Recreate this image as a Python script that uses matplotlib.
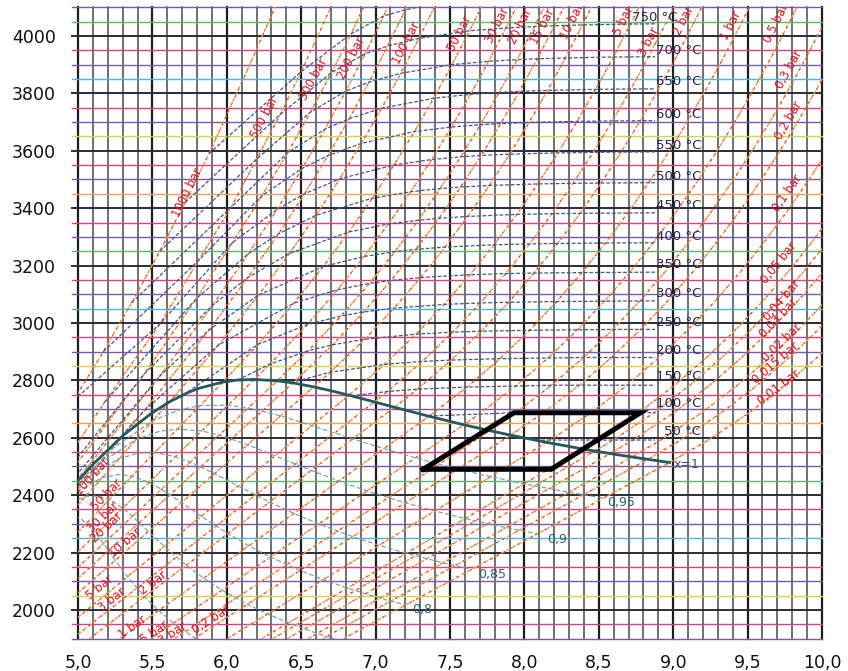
import numpy as np
import matplotlib.pyplot as plt
from matplotlib.patches import Rectangle

nan = np.nan

# --- data: h-s (Mollier) chart of steam, s in kJ/(kg K), h in kJ/kg ---

# temperatures of the superheated points (deg C)
T_GRID = [50, 100, 150, 200, 250, 300, 350, 400, 450, 500, 550, 600, 650, 700, 750, 800, 850, 900]

# enthalpy at low pressure (same for all isobars <= 0.3 bar)
H_LOW = [2592.0, 2687.4, 2783.0, 2879.6, 2977.4, 3076.7, 3177.2, 3280.0, 3384.3, 3489.7,
         3597.0, 3706.3, 3817.3, 3929.9, 4044.0, 4160.2, nan, nan]

S_1000 = [nan] * 10 + [4.97, 5.17, 5.36, 5.55, 5.72, 5.88, 6.15, 6.40]
H_1000 = [nan] * 10 + [2730, 2900, 3070, 3250, 3420, 3590, 3895, 4190]
S_500 = [nan] * 8 + [4.62, 5.176, 5.55, 5.81, 6.03, 6.20, 6.36, 6.50, 6.63, 6.76]
H_500 = [nan] * 8 + [2285, 2722, 2996, 3218, 3404, 3571, 3727, 3876, 4022, 4170]
S_300 = [nan] * 7 + [4.475, 5.4435, 5.7956, 6.0373, 6.2374, 6.4092, 6.5630, 6.7044, 6.8354, 6.94, nan]
H_300 = [nan] * 7 + [2152.8, 2821.0, 3084.8, 3279.8, 3444.2, 3593.2, 3735.2, 3872.9, 4007.5, 4125, nan]
S_200 = [nan] * 7 + [5.5525, 5.9043, 6.1446, 6.3390, 6.5075, 6.6593, 6.7993, 6.9298, 7.0544, 7.16, nan]
H_200 = [nan] * 7 + [2816.9, 3061.7, 3241.2, 3396.2, 3539.0, 3675.3, 3807.8, 3938.1, 4069.8, 4190, nan]
S_150 = [nan] * 6 + [5.4420, 5.8810, 6.1403, 6.3480, 6.5230, 6.6796, 6.8233, 6.9556, 7.0808, 7.2000, 7.31, nan]
H_150 = [nan] * 6 + [2693.1, 2975.7, 3157.9, 3310.8, 3450.4, 3583.1, 3712.0, 3839.1, 3965.0, 4091.1, 4215, nan]
S_100 = [nan] * 6 + [5.9460, 6.2141, 6.4219, 6.5995, 6.7585, 6.9045, 7.0408, 7.1693, 7.2916, 7.4085, nan, nan]
H_100 = [nan] * 6 + [2924.0, 3097.5, 3242.4, 3375.1, 3502.0, 3625.8, 3748.1, 3870.0, 3992.0, 4114.5, nan, nan]
S_50 = [nan] * 5 + [6.2110, 6.4516, 6.6483, 6.8210, 6.9781, 7.1237, 7.2605, 7.3903, 7.5136, 7.6317, 7.7458, nan, nan]
H_50 = [nan] * 5 + [2925.7, 3069.3, 3196.7, 3317.2, 3434.7, 3550.5, 3666.9, 3783.0, 3900.3, 4018.2, 4137.7, nan, nan]
S_30 = [nan] * 4 + [6.2893, 6.5412, 6.7449, 6.9234, 7.0856, 7.2359, 7.3768, 7.5103, 7.6373, 7.7590, 7.8755, 7.9885, nan, nan]
H_30 = [nan] * 4 + [2856.5, 2994.3, 3116.1, 3231.7, 3344.9, 3457.2, 3569.5, 3682.8, 3796.8, 3911.7, 4027.5, 4145.0, nan, nan]
S_20 = [nan] * 4 + [6.5475, 6.7684, 6.9583, 7.1292, 7.2866, 7.4337, 7.5725, 7.7043, 7.8302, 7.9509, 8.0666, 8.1791, nan, nan]
H_20 = [nan] * 4 + [2903.2, 3024.2, 3137.7, 3248.4, 3357.8, 3468.3, 3579.1, 3690.7, 3803.6, 3917.5, 4033.0, 4149.2, nan, nan]
S_15 = [nan] * 4 + [6.7111, 6.9198, 7.1036, 7.2709, 7.4262, 7.5718, 7.7099, 7.8410, 7.9665, 8.0867, 8.2021, 8.3143, nan, nan]
H_15 = [nan] * 4 + [2923.9, 3038.2, 3148.0, 3256.5, 3364.6, 3473.7, 3583.6, 3694.6, 3807.0, 3920.5, 4035.8, 4151.7, nan, nan]
S_10 = [nan] * 3 + [6.6955, 6.9265, 7.1246, 7.3029, 7.4670, 7.6200, 7.7642, 7.9010, 8.0311, 8.1560, 8.2755, 8.3906, 8.5024, nan, nan]
H_10 = [nan] * 3 + [2828.3, 2943.1, 3051.6, 3158.2, 3264.5, 3371.3, 3479.1, 3588.1, 3698.6, 3810.5, 3923.5, 4038.5, 4154.1, nan, nan]
S_5 = [nan] * 3 + [7.0610, 7.2725, 7.4614, 7.6346, 7.7956, 7.9479, 8.0893, 8.2249, 8.3544, 8.4786, 8.5978, 8.7125, 8.8240, nan, nan]
H_5 = [nan] * 3 + [2855.8, 2961.0, 3064.6, 3168.1, 3272.4, 3378.2, 3484.5, 3592.7, 3702.5, 3814.0, 3926.7, 4041.7, 4156.9, nan, nan]
S_3 = [nan] * 2 + [7.0791, 7.3132, 7.5180, 7.7037, 7.8744, 8.0347, 8.1857, 8.3271, 8.4619, 8.5915, 8.7153, 8.8345, 8.9490, 9.0605, nan, nan]
H_3 = [nan] * 2 + [2761.2, 2865.9, 2967.9, 3069.6, 3172.0, 3275.5, 3380.8, 3486.6, 3594.5, 3704.0, 3815.3, 3927.7, 4042.6, 4157.6, nan, nan]
S_2 = [nan] * 2 + [7.2810, 7.5081, 7.7100, 7.8941, 8.0637, 8.2236, 8.3740, 8.5153, 8.6498, 8.7793, 8.9031, 9.0221, 9.1365, 9.2479, nan, nan]
H_2 = [nan] * 2 + [2769.1, 2870.7, 2971.2, 3072.1, 3173.8, 3277.0, 3382.0, 3487.7, 3595.4, 3704.8, 3816.0, 3928.4, 4043.2, 4158.0, nan, nan]
S_1 = [nan] + [7.3610, 7.6148, 7.8356, 8.0346, 8.2172, 8.3858, 8.5452, 8.6951, 8.8362, 8.9705, 9.0999, 9.2236, 9.3424, 9.4568, 9.5682, nan, nan]
H_1 = [nan] + [2675.8, 2776.6, 2875.5, 2974.5, 3074.5, 3175.6, 3278.6, 3383.2, 3488.7, 3596.3, 3705.6, 3816.7, 3928.9, 4043.6, 4158.4, nan, nan]
S_0_5 = [nan] + [7.6953, 7.9413, 8.1592, 8.3568, 8.5386, 8.7071, 8.8659, 9.0157, 9.1566, 9.2909, 9.4201, 9.5438, 9.6625, 9.7768, 9.8882, nan, nan]
H_0_5 = [nan] + [2682.4, 2780.2, 2877.8, 2976.1, 3075.8, 3176.4, 3279.3, 3383.8, 3489.2, 3596.6, 3706.0, 3817.0, 3929.7, 4043.9, 4160.0, nan, nan]
S_0_3 = [nan, 7.9419, 8.1822, 8.3979, 8.5945, 8.7757, 8.9437, 9.1024, 9.2518, 9.3928, 9.5270, 9.6561, 9.7797, 9.8986, 10.0129, nan, nan, nan]
S_0_2 = [nan, 8.1290, 8.3693, 8.5850, 8.7816, 8.9628, 9.1308, 9.2895, 9.4389, 9.5799, 9.7141, 9.8432, 9.9668, 10.0857, nan, nan, nan, nan]
S_0_1 = [8.1741, 8.4489, 8.6892, 8.9049, 9.1015, 9.2827, 9.4507, 9.6094, 9.7588, 9.8998, 10.0340, 10.1631] + [nan] * 6
S_0_05 = [8.4940, 8.7688, 9.0091, 9.2248, 9.4214, 9.6026, 9.7706, 9.9293, 10.0787, 10.2197] + [nan] * 8
S_0_04 = [8.5970, 8.8718, 9.1121, 9.3278, 9.5244, 9.7056, 9.8736, 10.0323] + [nan] * 10
S_0_03 = [8.7297, 9.0045, 9.2448, 9.4605, 9.6571, 9.8383, 10.0063] + [nan] * 11
S_0_02 = [8.9169, 9.1917, 9.4320, 9.6477, 9.8443, 10.0255] + [nan] * 12
S_0_015 = [9.0496, 9.3244, 9.5647, 9.7804, 9.9770, 10.1582] + [nan] * 12
S_0_01 = [9.2368, 9.5116, 9.7519, 9.9676, 10.1642] + [nan] * 13

P_TEXT = ["1000 bar", "500 bar", "300 bar", "200 bar", "150 bar", "100 bar", "50 bar", "30 bar",
          "20 bar", "15 bar", "10 bar", "5 bar", "3 bar", "2 bar", "1 bar", "0,5 bar", "0,3 bar",
          "0,2 bar", "0,1 bar", "0,05 bar", "0,04 bar", "0,03 bar", "0,02 bar", "0,015 bar", "0,01 bar"]
S_TABLE = [S_1000, S_500, S_300, S_200, S_150, S_100, S_50, S_30, S_20, S_15, S_10, S_5, S_3, S_2,
           S_1, S_0_5, S_0_3, S_0_2, S_0_1, S_0_05, S_0_04, S_0_03, S_0_02, S_0_015, S_0_01]
H_TABLE = [H_1000, H_500, H_300, H_200, H_150, H_100, H_50, H_30, H_20, H_15, H_10, H_5, H_3, H_2,
           H_1, H_0_5, H_LOW, H_LOW, H_LOW, H_LOW, H_LOW, H_LOW, H_LOW, H_LOW, H_LOW]

# saturated vapour point of each isobar
SAT_S = [nan, nan, nan, 4.9314, 5.3097, 5.6159, 5.9737, 6.1856, 6.3390, 6.4448, 6.5850, 6.8207, 6.9916,
         7.1269, 7.3588, 7.5931, 7.7675, 7.9073, 8.1488, 8.3939, 8.4735, 8.5766, 8.7227, 8.8279, 8.9749]
SAT_H = [nan, nan, nan, 2412.3, 2610.8, 2725.5, 2794.2, 2803.2, 2798.3, 2791.0, 2777.1, 2748.1, 2724.9,
         2706.2, 2674.9, 2645.2, 2624.6, 2608.9, 2583.9, 2560.7, 2553.7, 2544.8, 2532.9, 2524.7, 2513.7]
# lower end of each isobar in the wet region (chart border)
WET_S = [nan, nan, nan, nan, 5.0, 5.0, 5.0, 5.0, 5.0, 5.0, 5.0, 5.0, 5.0, 5.0774, 5.2800, 5.4908,
         5.6503, 5.7798, 6.0046, 6.2349, 6.3097, 6.4072, 6.5452, 6.6449, 6.7840]
WET_H = [nan, nan, nan, nan, 2420.2, 2365.7, 2271.2, 2202.1, 2148.2, 2109.9, 2059.1, 1974.3, 1915.0,
         1900, 1900, 1900, 1900, 1900, 1900, 1900, 1900, 1900, 1900, 1900, 1900]

# isobar labels (top / right side)
LAB_S = [5.738, 6.255, 6.584, 6.839, nan, 7.208, 7.564, 7.819, 7.975, 8.125, 8.322, 8.671, 8.839,
         9.074, 9.39, 9.691, 9.779, 9.779, 9.765, 9.711, 9.732, 9.711, 9.732, 9.691, 9.711]
LAB_H = [3456, 3718, 3850, 3923, nan, 3976, 4010, 4038, 4035, 4035, 4050, 4055, 3979,
         4055, 4035, 4045, 3882, 3707, 3453, 3209, 3080, 3018, 2930, 2861, 2774]
# isobar labels in the wet region (lower left)
WLAB_P = ["100 bar", "50 bar", "30 bar", "20 bar", "10 bar", "5 bar", "3 bar", "2 bar", "1 bar",
          "0,5 bar", "0,3 bar", "0,2 bar"]
WLAB_S = [5.101, 5.195, 5.168, 5.195, 5.315, 5.148, 5.228, 5.503, 5.369, 5.483, 5.604, 5.893]
WLAB_H = [2464, 2401, 2324, 2289, 2234, 2077, 2035, 2094, 1941, 1910, 1906, 1965]

# saturated vapour points where isotherms start (50 ... 350 deg C)
ISO_SAT_S = [8.0748, 7.3541, 6.8371, 6.4302, 6.0721, 5.7059, 5.2177]
ISO_SAT_H = [2591.3, 2675.6, 2745.9, 2792.0, 2801.0, 2749.0, 2563.9]
ISO_LAB_T = [750, 700, 650, 600, 550, 500, 450, 400, 350, 300, 250, 200, 150, 100, 50]
ISO_LAB_H = [4066, 3948, 3840, 3728, 3620, 3512, 3411, 3303, 3202, 3101, 3000, 2903, 2812, 2718, 2620]

# saturation line x = 1
XSAT_S = [4.9314, 5.1044, 5.3097, 5.4939, 5.6159, 5.7450, 5.8148, 5.9737, 6.0696, 6.1856, 6.3390,
          6.4448, 6.5850, 6.7071, 6.8207, 6.9916, 7.1269, 7.3588, 7.5931, 7.7675, 7.9073, 8.1488,
          8.3939, 8.5766, 8.7227, 8.9749]
XSAT_H = [2412.3, 2509.5, 2610.8, 2685.4, 2725.5, 2758.7, 2772.6, 2794.2, 2800.8, 2803.2, 2798.3,
          2791.0, 2777.1, 2763.0, 2748.1, 2724.9, 2706.2, 2674.9, 2645.2, 2624.6, 2608.9, 2583.9,
          2560.7, 2544.8, 2532.9, 2513.7]

# lines of constant dryness fraction
Q095_S = [4.8856, 5.2285, 5.5031, 5.6802, 5.8211, 6.0086, 6.1444, 6.3627, 6.5727, 6.8472, 7.0560,
          7.2680, 7.5534, 7.7738, 7.9979, 8.2996, 8.5310]
Q095_H = [2383.0, 2560.8, 2659.6, 2697.3, 2712.2, 2713.5, 2703.8, 2676.4, 2642.1, 2596.1, 2562.0,
          2530.0, 2491.0, 2464.3, 2439.6, 2409.9, 2389.5]
Q090_S = [4.8398, 5.1472, 5.3903, 5.5455, 5.6684, 5.8316, 5.9498, 6.1403, 6.3247, 6.5673, 6.7532,
          6.9429, 7.1997, 7.3988, 7.6020, 7.8765, 8.0880]
Q090_H = [2353.8, 2510.8, 2593.7, 2622.1, 2630.2, 2623.7, 2609.3, 2575.6, 2536.8, 2486.1, 2449.2,
          2414.7, 2373.2, 2344.7, 2318.4, 2287.0, 2265.3]
Q085_S = [4.7940, 5.0660, 5.2776, 5.4109, 5.5158, 5.6546, 5.7552, 5.9180, 6.0767, 6.2875, 6.4504,
          6.6178, 6.8459, 7.0239, 7.2062, 7.4534, 7.6446]
Q085_H = [2324.5, 2460.7, 2527.9, 2546.8, 2548.2, 2534.0, 2514.8, 2474.9, 2431.4, 2376.0, 2336.3,
          2299.5, 2255.3, 2225.1, 2197.3, 2164.0, 2141.0]
Q080_S = [4.7482, 4.9847, 5.1648, 5.2762, 5.3632, 5.4776, 5.5605, 5.6956, 5.8286, 6.0076, 6.1476,
          6.2927, 6.4922, 6.6489, 6.8103, 7.0303, 7.2011]
Q080_H = [2295.3, 2410.7, 2462.0, 2471.6, 2466.3, 2444.2, 2420.3, 2374.2, 2326.0, 2265.9, 2223.4,
          2184.3, 2137.4, 2105.5, 2076.1, 2041.0, 2016.8]
Q075_S = [4.7024, 4.9035, 5.0520, 5.1416, 5.2105, 5.3006, 5.3659, 5.4733, 5.5806, 5.7278, 5.8448,
          5.9676, 6.1384, 6.2739, 6.4144, 6.6072, 6.7577]
Q075_H = [2266.0, 2360.7, 2396.1, 2396.3, 2384.3, 2354.5, 2325.9, 2273.5, 2220.7, 2155.8, 2110.5,
          2069.0, 2019.5, 1985.9, 1955.0, 1918.0, 1892.6]
Q070_S = [4.6566, 4.8222, 4.9392, 5.0069, 5.0579, 5.1235, 5.1713, 5.2509, 5.3326, 5.4480, 5.5420,
          5.6425, 5.7846, 5.8989]
Q070_H = [2236.7, 2310.7, 2330.2, 2321.1, 2302.3, 2264.7, 2231.4, 2172.7, 2115.3, 2045.8, 1997.7,
          1953.8, 1901.7, 1866.3]
Q_TEXT = ["0,95", "0,9", "0,85", "0,8"]
Q_LAB_S = [8.651, 8.221, 7.785, 7.315]
Q_LAB_H = [2376, 2244, 2122, 2000]

# the black process cycle drawn on the chart
CYCLE_S = [7.32, 7.93, 8.78, 8.18, 7.32]
CYCLE_H = [2490, 2687, 2687, 2490, 2490]

X_TICKS = [5.0, 5.5, 6.0, 6.5, 7.0, 7.5, 8.0, 8.5, 9.0, 9.5, 10.0]
X_TICKLABELS = ["5,0", "5,5", "6,0", "6,5", "7,0", "7,5", "8,0", "8,5", "9,0", "9,5", "10,0"]
Y_TICKS = [2000, 2200, 2400, 2600, 2800, 3000, 3200, 3400, 3600, 3800, 4000]

# --- figure ---
fig = plt.figure(figsize=(8.48, 6.71), dpi=100)
ax = fig.add_axes([78 / 848, 1 - 638.6 / 671, 744 / 848, 631.3 / 671])
ax.set_xlim(5.0, 10.0)
ax.set_ylim(1900, 4100)
for sp in ax.spines.values():
    sp.set_visible(False)

# grid: every 0.1 in s, every 50 in h
for i in range(51):
    s = 5.0 + 0.1 * i
    major = i % 5 == 0
    ax.plot([s, s], [1900, 4100], color='#1e1e1e' if major else '#505050',
            lw=1.6 if major else 1.15, zorder=1, clip_on=False)
cols50 = ['#d9d24e', '#52b2da', '#62b46a', '#e9a45a']
for j in range(45):
    h = 1900 + 50 * j
    m = h % 200
    if m == 0:
        col, lw = '#2d2a3a', 1.4
    elif m == 150:
        col, lw = '#d8437f', 1.0
    elif m == 100:
        col, lw = '#7a5aa8', 1.0
    else:
        col, lw = cols50[(j // 4) % 4], 1.0
    ax.plot([4.96, 10.0], [h, h], color=col, lw=lw, zorder=1, clip_on=False)

# isobars
isobars = []
for k in range(len(P_TEXT)):
    pts = []
    if not np.isnan(WET_S[k]):
        pts.append((WET_S[k], WET_H[k]))
    if not np.isnan(SAT_S[k]):
        pts.append((SAT_S[k], SAT_H[k]))
    for s, h in zip(S_TABLE[k], H_TABLE[k]):
        if not np.isnan(s) and not np.isnan(h):
            pts.append((s, h))
    pts = np.array(pts)
    isobars.append(pts)
    ax.plot(pts[:, 0], pts[:, 1], color='#f29a48', lw=1.0, ls=(0, (3, 1.6)), zorder=2)
    ax.plot(pts[:, 0], pts[:, 1], color='#e03a3a', lw=0.85, ls=(1.5, (1.5, 5)), zorder=2)

# lines of constant dryness
for qs, qh in [(Q095_S, Q095_H), (Q090_S, Q090_H), (Q085_S, Q085_H), (Q080_S, Q080_H),
               (Q075_S, Q075_H), (Q070_S, Q070_H)]:
    ax.plot(qs, qh, color='#7aa0a0', lw=0.85, ls=(0, (4, 2)), zorder=2)
for txt, s, h in zip(Q_TEXT, Q_LAB_S, Q_LAB_H):
    ax.text(s, h, txt, color='#2d5f6e', fontsize=9, ha='center', va='center', zorder=5)

# isotherms (they end at their labels)
iso_clip = Rectangle((5.0, 1900), 3.88, 2200, transform=ax.transData)
for i, T in enumerate(T_GRID[:16]):
    pts = []
    if i < len(ISO_SAT_S):
        pts.append((ISO_SAT_S[i], ISO_SAT_H[i]))
    for k in range(len(P_TEXT)):
        s, h = S_TABLE[k][i], H_TABLE[k][i]
        if not np.isnan(s) and not np.isnan(h):
            pts.append((s, h))
    pts = np.array(pts)
    ln, = ax.plot(pts[:, 0], pts[:, 1], color='#4a5584', lw=0.9, ls=(0, (3, 1.5)), zorder=2.5)
    ln.set_clip_path(iso_clip)
for T, h in zip(ISO_LAB_T, ISO_LAB_H):
    s = 9.03 if T == 750 else 9.19
    ax.text(s, h, f"{T} °C", color='#28284e', fontsize=9.5, ha='right', va='center', zorder=5)

# saturation line
ax.plot(XSAT_S, XSAT_H, color='#25595c', lw=2.0, zorder=3)
ax.text(9.09, 2505, "x=1", color='#25595c', fontsize=9, ha='center', va='center', zorder=5)

# process cycle
ax.plot(CYCLE_S, CYCLE_H, color='black', lw=3.6, solid_joinstyle='miter', zorder=4)


def line_angle(pts, h0):
    k = len(pts) - 2
    for j in range(len(pts) - 1):
        if pts[j, 1] <= h0 <= pts[j + 1, 1]:
            k = j
            break
    p1 = ax.transData.transform(pts[k])
    p2 = ax.transData.transform(pts[k + 1])
    return np.degrees(np.arctan2(p2[1] - p1[1], p2[0] - p1[0]))


for k, txt in enumerate(P_TEXT):
    if np.isnan(LAB_S[k]):
        continue
    ang = line_angle(isobars[k], LAB_H[k])
    ax.text(LAB_S[k], LAB_H[k], txt, color='#e3121f', fontsize=8.5, rotation=ang,
            rotation_mode='anchor', ha='center', va='center', zorder=5, clip_on=True)
for txt, s, h in zip(WLAB_P, WLAB_S, WLAB_H):
    pts = isobars[P_TEXT.index(txt)]
    ang = line_angle(pts[:2], pts[0, 1])
    ax.text(s, h, txt, color='#e3121f', fontsize=8.5, rotation=ang,
            rotation_mode='anchor', ha='center', va='center', zorder=5, clip_on=True)

ax.set_xticks(X_TICKS)
ax.set_xticklabels(X_TICKLABELS)
ax.set_yticks(Y_TICKS)
ax.tick_params(axis='both', length=0, labelsize=12.5, colors='#111111')
ax.tick_params(axis='x', pad=11)
ax.tick_params(axis='y', pad=16)

fig.savefig("out.png", dpi=100)
